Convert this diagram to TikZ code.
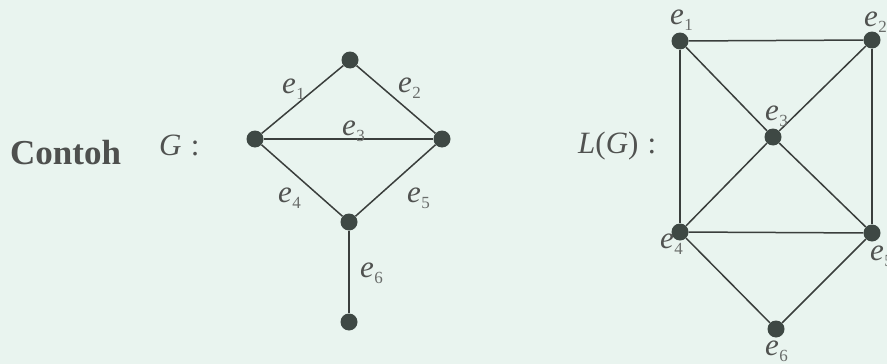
\documentclass[tikz,border=0pt]{standalone}
\usepackage{fontspec}
\setmainfont{Liberation Serif}
\definecolor{bgmint}{RGB}{233,244,239}
\definecolor{vert}{RGB}{62,72,68}
\definecolor{edgec}{RGB}{58,62,60}
\definecolor{labc}{RGB}{80,82,80}
\definecolor{subc}{RGB}{105,108,106}
\definecolor{titlec}{RGB}{78,80,78}
\newcommand\elab[1]{\textit{e}\kern0.5pt\raisebox{-6pt}{\fontsize{17}{17}\selectfont\color{subc}#1}}
\tikzset{
  vtx/.style={circle,fill=vert,inner sep=0pt,minimum size=17pt},
  edg/.style={draw=edgec,line width=1.5pt},
  lab/.style={inner sep=0pt,anchor=base west,text=labc,font=\fontsize{31}{31}\selectfont},
  ttl/.style={inner sep=0pt,anchor=base west,text=titlec,font=\fontsize{35}{35}\selectfont\bfseries},
}
\begin{document}
\begin{tikzpicture}[x=1pt,y=-1pt]
\fill[bgmint] (0,0) rectangle (887,364);
\useasboundingbox (0,0) rectangle (887,364);

% titles
\node[ttl] (contoh) at (10,164) {Contoh};
\node[lab] (gname) at (159,155) {\textit{G}\hspace{0.3em}:};
\node[lab] (lgname) at (578,153) {\textit{L}(\textit{G})\hspace{0.3em}:};

% graph G
\node[vtx] (gt) at (350,60) {};
\node[vtx] (gl) at (255,139) {};
\node[vtx] (gr) at (442,139) {};
\node[vtx] (gb) at (349,222) {};
\node[vtx] (gd) at (349,322) {};
\draw[edg] (gl) -- (gt);
\draw[edg] (gt) -- (gr);
\draw[edg] (gl) -- (gr);
\draw[edg] (gl) -- (gb);
\draw[edg] (gr) -- (gb);
\draw[edg] (gb) -- (gd);
\node[lab] (ge1) at (282,93) {\elab{1}};
\node[lab] (ge2) at (398,92) {\elab{2}};
\node[lab] (ge3) at (342,135) {\elab{3}};
\node[lab] (ge4) at (278,202) {\elab{4}};
\node[lab] (ge5) at (407,202) {\elab{5}};
\node[lab] (ge6) at (360,277) {\elab{6}};

% line graph L(G)
\node[vtx] (v1) at (680,41) {};
\node[vtx] (v2) at (872,40) {};
\node[vtx] (v3) at (773,137) {};
\node[vtx] (v4) at (680,232) {};
\node[vtx] (v5) at (872,233) {};
\node[vtx] (v6) at (776,329) {};
\draw[edg] (v1) -- (v2);
\draw[edg] (v1) -- (v4);
\draw[edg] (v2) -- (v5);
\draw[edg] (v1) -- (v3);
\draw[edg] (v3) -- (v5);
\draw[edg] (v2) -- (v3);
\draw[edg] (v3) -- (v4);
\draw[edg] (v4) -- (v5);
\draw[edg] (v4) -- (v6);
\draw[edg] (v5) -- (v6);
\node[lab] (le1) at (670,24) {\elab{1}};
\node[lab] (le2) at (864,26) {\elab{2}};
\node[lab] (le3) at (765,120) {\elab{3}};
\node[lab] (le4) at (660,248) {\elab{4}};
\node[lab] (le5) at (870,260) {\elab{5}};
\node[lab] (le6) at (765,355) {\elab{6}};
\end{tikzpicture}
\end{document}
